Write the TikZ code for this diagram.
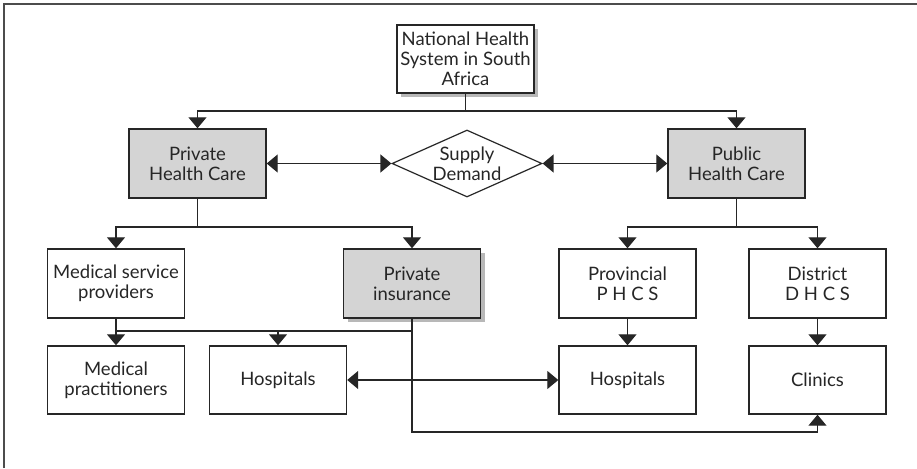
\documentclass[tikz,border=0pt]{standalone}
\usepackage{fontspec}
\setmainfont{Lato}
\usetikzlibrary{arrows.meta,shapes.geometric,shadows}
\begin{document}
\begin{tikzpicture}[x=1pt,y=-1pt,
  box/.style={draw=black!85, line width=1.4pt, fill=white, minimum width=137pt, minimum height=69pt,
    inner sep=0pt, align=center, font=\fontsize{18.5}{20}\selectfont, text=black!85},
  graybox/.style={box, fill=black!17},
  shad/.style={drop shadow={shadow xshift=4pt, shadow yshift=-4pt, fill=black!28, opacity=1}},
  conn/.style={line width=1.3pt, draw=black!85},
  arr/.style={conn, -{Triangle[width=18pt,length=11pt]}},
  arrr/.style={conn, {Triangle[width=18pt,length=11pt]}-{Triangle[width=18pt,length=11pt]}},
  dia/.style={diamond, draw=black!85, line width=1.2pt, fill=white, minimum width=150pt, minimum height=67pt,
    inner sep=0pt, aspect=2.2, align=center, font=\fontsize{18.5}{20}\selectfont, text=black!85}
]
\useasboundingbox (0,0) rectangle (917,468);
\draw[line width=1.6pt, black!70] (4,468) -- (4,4) -- (917,4);

\node[box, shad, minimum height=68pt] (nat) at (465.5,59) {National Health\\System in South\\Africa};
\node[graybox] (priv) at (197.5,163.5) {Private\\Health Care};
\node[graybox] (pub) at (736.5,163.5) {Public\\Health Care};
\node[dia] (sd) at (467,163.5) {Supply\\Demand};

\node[box] (msp) at (116,283.5) {Medical service\\providers};
\node[graybox, shad] (pins) at (412,283.5) {Private\\insurance};
\node[box] (prov) at (627.5,283.5) {Provincial\\P H C S};
\node[box] (dist) at (817.5,283.5) {District\\D H C S};

\node[box, minimum height=68pt] (mp) at (116,380) {Medical\\practitioners};
\node[box, minimum height=68pt] (hosL) at (278,380) {Hospitals};
\node[box, minimum height=68pt] (hosR) at (627.5,380) {Hospitals};
\node[box, minimum height=68pt] (clin) at (817.5,380) {Clinics};

\coordinate (t1) at (0,111);
\coordinate (t2) at (0,227);
\coordinate (t3) at (0,331);
\coordinate (t4) at (0,432);

\draw[arr] (nat.south) -- (nat.south |- t1) -| (priv.north);
\draw[arr] (nat.south |- t1) -| (pub.north);
\draw[arrr] (priv.east) -- (sd.west);
\draw[arrr] (sd.east) -- (pub.west);

\draw[arr] (priv.south) -- (priv.south |- t2) -| (msp.north);
\draw[arr] (priv.south |- t2) -| (pins.north);
\draw[arr] (pub.south) -- (pub.south |- t2) -| (prov.north);
\draw[arr] (pub.south |- t2) -| (dist.north);

\draw[conn] (msp.south) -- (msp.south |- t3) -- (pins.south |- t3);
\draw[arr] (msp.south |- t3) -- (mp.north);
\draw[arr] (hosL.north |- t3) -- (hosL.north);
\draw[arr] (pins.south) -- (pins.south |- t4) -| (clin.south);

\draw[arrr] (hosL.east) -- (hosR.west);
\draw[arr] (prov.south) -- (hosR.north);
\draw[arr] (dist.south) -- (clin.north);
\end{tikzpicture}
\end{document}
